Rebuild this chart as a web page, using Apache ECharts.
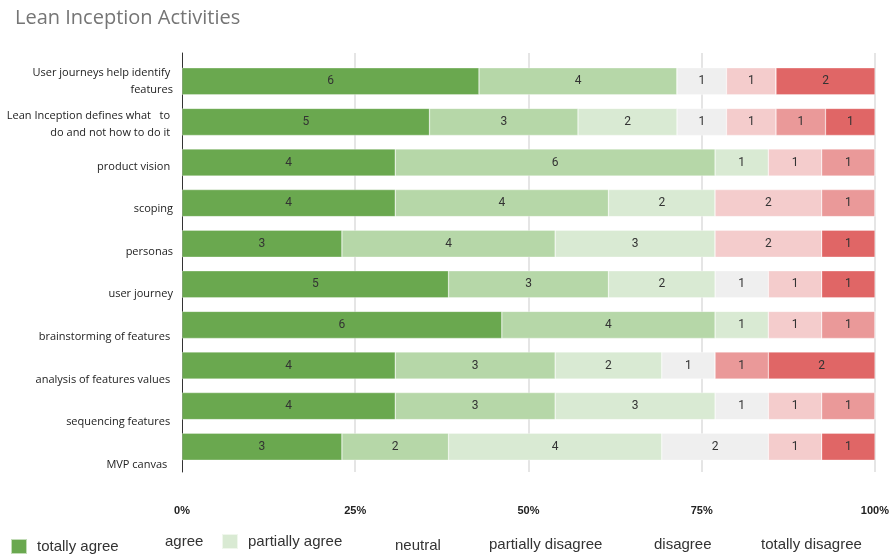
<!DOCTYPE html>
<html>
<head>
<meta charset="utf-8">
<script src="https://cdn.jsdelivr.net/npm/echarts@6/dist/echarts.min.js"></script>
<style>html,body{margin:0;padding:0;background:#fff}#c{width:892px;height:558px}</style>
</head>
<body>
<div id="c"></div>
<script>
const categories = [
  'User journeys help identify \nfeatures',
  'Lean Inception defines what   to \ndo and not how to do it ',
  'product vision ',
  'scoping',
  'personas',
  'user journey',
  'brainstorming of features ',
  'analysis of features values ',
  'sequencing features ',
  'MVP canvas  '
];
const seriesNames = ['totally agree','agree','partially agree','neutral','partially disagree','disagree','totally disagree'];
const totallyAgree      = [6,5,4,4,3,5,6,4,4,3];
const agree             = [4,3,6,4,4,3,4,3,3,2];
const partiallyAgree    = [0,2,1,2,3,2,1,2,3,4];
const neutral           = [1,1,0,0,0,1,0,1,1,2];
const partiallyDisagree = [1,1,1,2,2,1,1,0,1,1];
const disagree          = [0,1,1,1,0,0,1,1,1,0];
const totallyDisagree   = [2,1,0,0,1,1,0,2,0,1];
const tickLabels = ['0%','25%','50%','75%','100%'];

const allSeries = [totallyAgree, agree, partiallyAgree, neutral, partiallyDisagree, disagree, totallyDisagree];
const colors = ['#6aa84f','#b6d7a8','#d9ead3','#efefef','#f4cccc','#ea9999','#e06666'];
const totals = categories.map((c,i)=>allSeries.reduce((s,a)=>s+a[i],0));

const series = allSeries.map((arr,k)=>({
  name: seriesNames[k],
  type: 'bar',
  stack: 'total',
  xAxisIndex: 1,
  yAxisIndex: 1,
  barWidth: 27,
  itemStyle: {color: colors[k], borderColor: 'rgba(255,255,255,0.6)', borderWidth: 0.5},
  label: {
    show: true,
    position: 'inside',
    color: '#333',
    fontSize: 12,
    fontFamily: 'Roboto',
    formatter: p => arr[p.dataIndex] ? String(arr[p.dataIndex]) : ''
  },
  emphasis: {disabled: true},
  data: arr.map((v,i)=>v/totals[i]*100)
}));

const legendPos = [
  {left: 10, top: 538, icon: true},
  {left: 138, top: 533, icon: false},
  {left: 221, top: 533, icon: true},
  {left: 368, top: 537, icon: false},
  {left: 462, top: 536, icon: false},
  {left: 627, top: 536, icon: false},
  {left: 734, top: 536, icon: false}
];
const legends = seriesNames.map((n,k)=>({
  left: legendPos[k].left,
  top: legendPos[k].top,
  padding: 0,
  itemWidth: 16,
  itemHeight: 15,
  selectedMode: false,
  textStyle: {fontSize: 15, color: '#333', fontFamily: 'Liberation Sans', padding: [0,0,0,5]},
  data: [{name: n, icon: 'rect', itemStyle: legendPos[k].icon ? {} : {opacity: 0}}]
}));

const chart = echarts.init(document.getElementById('c'), null, {renderer: 'canvas'});
chart.setOption({
  animation: false,
  title: {
    text: 'Lean Inception Activities',
    left: 10, top: 3,
    textStyle: {fontSize: 20, fontWeight: 'normal', color: '#757575', fontFamily: 'Open Sans'}
  },
  legend: legends,
  grid: [
    {left: 182, right: 17, top: 53, bottom: 86},
    {left: 182, right: 17, top: 61, bottom: 91},
    {left: 182, right: 17, top: 60, bottom: 72}
  ],
  xAxis: [
    {
      gridIndex: 0, type: 'value', min: 0, max: 100, interval: 25,
      axisLine: {show: false}, axisTick: {show: false},
      splitLine: {show: true, lineStyle: {color: ['transparent','#dcdcdc','#dcdcdc','#dcdcdc','#dcdcdc'], width: 1.5}},
      axisLabel: {
        margin: 33, fontSize: 11, fontWeight: 'bold', color: '#222', fontFamily: 'Liberation Sans',
        formatter: v => tickLabels[Math.round(v/25)]
      }
    },
    {gridIndex: 1, type: 'value', min: 0, max: 100, show: false},
    {gridIndex: 2, type: 'value', min: 0, max: 100, show: false}
  ],
  yAxis: [
    {
      gridIndex: 0, type: 'category', inverse: true, data: categories,
      axisLine: {show: true, lineStyle: {color: '#333', width: 1}},
      axisTick: {show: false}, axisLabel: {show: false}
    },
    {gridIndex: 1, type: 'category', inverse: true, data: categories, show: false},
    {
      gridIndex: 2, type: 'category', inverse: true, data: categories,
      axisLine: {show: false}, axisTick: {show: false},
      axisLabel: {
        margin: 9, fontSize: 11, color: '#222', fontFamily: 'Open Sans', lineHeight: 17, align: 'right'
      }
    }
  ],
  series: series
});
</script>
</body>
</html>
